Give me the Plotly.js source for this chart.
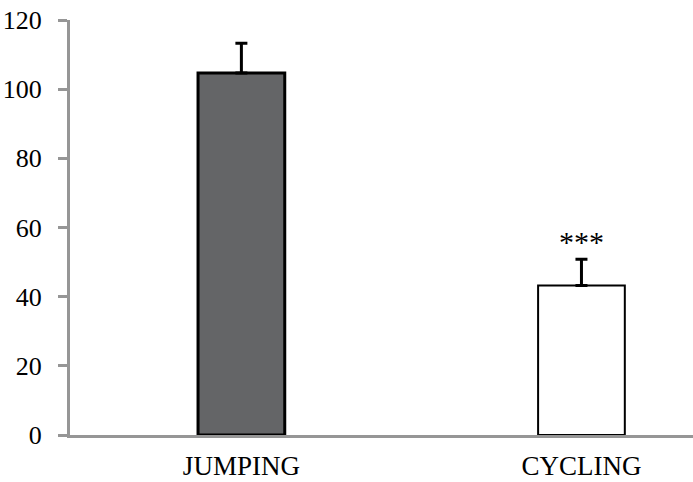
<!DOCTYPE html>
<html>
<head>
<meta charset="utf-8">
<script src="https://cdn.plot.ly/plotly-3.0.1.min.js"></script>
<style>html,body{margin:0;padding:0;background:#fff;}#chart{width:693px;height:482px;}</style>
</head>
<body>
<div id="chart"></div>
<script>
var categories = ["JUMPING", "CYCLING"];
var values = [104.7, 43.2];
var errorsUp = [8.6, 7.6];
var fillColors = ["#646567", "#ffffff"];
var outlineWidths = [3, 2];
var significance = ["", "***"];
var yTickValues = [0, 20, 40, 60, 80, 100, 120];

var trace = {
  type: "bar",
  x: categories,
  y: values,
  width: 0.255,
  marker: {color: fillColors, line: {color: "#000000", width: outlineWidths}},
  error_y: {type: "data", symmetric: false, array: errorsUp, arrayminus: [0, 0],
            color: "#000000", thickness: 3, width: 6},
  hoverinfo: "none"
};

var annotations = [];
for (var i = 0; i < categories.length; i++) {
  if (significance[i]) {
    annotations.push({x: categories[i], y: values[i] + errorsUp[i] + 5.2, text: significance[i],
      showarrow: false, yanchor: "middle", xanchor: "center",
      font: {family: "Liberation Serif, Times New Roman, serif", size: 30, color: "#000"}});
  }
}

var layout = {
  width: 693, height: 482,
  margin: {l: 70, r: 0, t: 20, b: 47},
  paper_bgcolor: "#fff", plot_bgcolor: "#fff",
  showlegend: false,
  font: {family: "Liberation Serif, Times New Roman, serif", size: 26, color: "#000"},
  xaxis: {type: "category", range: [-0.504, 1.328], showline: true, linecolor: "#969696", linewidth: 3,
          ticks: "", showgrid: false, zeroline: false, tickfont: {size: 27}, ticklabelstandoff: 5, fixedrange: true},
  yaxis: {range: [0, 120], tickvals: yTickValues, showline: true, linecolor: "#969696", linewidth: 3,
          ticks: "outside", ticklen: 9, tickwidth: 3, tickcolor: "#969696", ticklabelstandoff: 11,
          showgrid: false, zeroline: false, tickfont: {size: 26}, fixedrange: true},
  annotations: annotations
};

Plotly.newPlot("chart", [trace], layout, {displayModeBar: false, staticPlot: true});
</script>
</body>
</html>
